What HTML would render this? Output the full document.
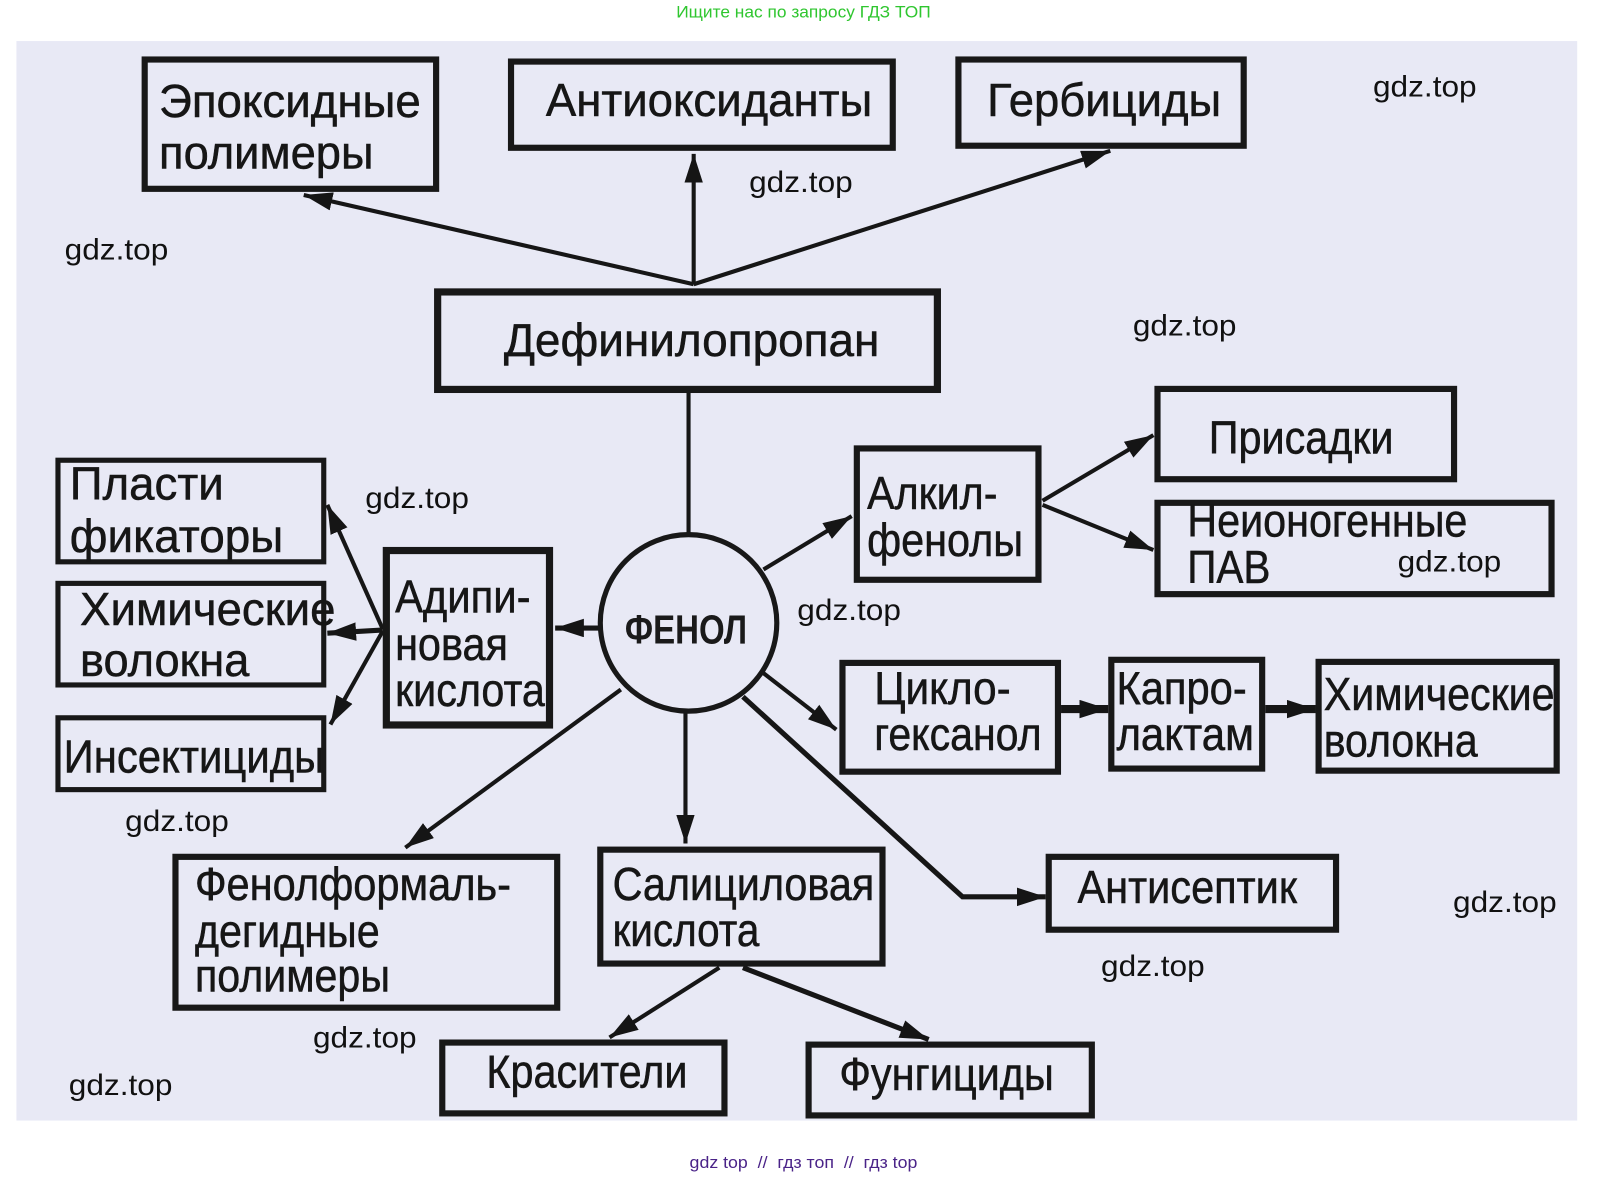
<!DOCTYPE html>
<html>
<head>
<meta charset="utf-8">
<style>
html,body{margin:0;padding:0;background:#ffffff;}
svg{display:block;}
.t{font-family:"Liberation Sans","DejaVu Sans",sans-serif;font-size:45px;fill:#161616;stroke:#161616;stroke-width:0.5;}
.w{font-family:"Liberation Sans","DejaVu Sans",sans-serif;font-size:29px;fill:#111111;}
.b{fill:#e8e9f5;stroke:#181818;}
.l{stroke:#161616;stroke-width:4;fill:none;}
</style>
</head>
<body>
<svg width="1609" height="1177" viewBox="0 0 1568 1147" xmlns="http://www.w3.org/2000/svg">
<defs>
<marker id="a" markerUnits="userSpaceOnUse" markerWidth="30" markerHeight="20" refX="28" refY="9" orient="auto">
<path d="M0,0 L28,9 L0,18 z" fill="#151515"/>
</marker>
</defs>

<rect x="0" y="0" width="1568" height="1147" fill="#ffffff"/>
<text x="783" y="17" text-anchor="middle" font-family="Liberation Sans, sans-serif" font-size="16.5" fill="#2fc62f" textLength="248" lengthAdjust="spacingAndGlyphs">Ищите нас по запросу ГДЗ ТОП</text>

<rect x="16" y="40" width="1521" height="1052" fill="#e8e9f5"/>

<!-- connectors -->
<line class="l" x1="676" y1="277" x2="296" y2="190" marker-end="url(#a)"/>
<line class="l" x1="676" y1="277" x2="676" y2="150" marker-end="url(#a)"/>
<line class="l" x1="676" y1="277" x2="1082" y2="147" marker-end="url(#a)"/>
<line class="l" x1="671" y1="383" x2="671" y2="522"/>
<line class="l" x1="585" y1="612" x2="541" y2="612" marker-end="url(#a)" style="stroke-width:5"/>
<line class="l" x1="373" y1="613" x2="319" y2="492" marker-end="url(#a)"/>
<line class="l" x1="373" y1="614" x2="319" y2="617" marker-end="url(#a)" style="stroke-width:5"/>
<line class="l" x1="373" y1="615" x2="322" y2="706" marker-end="url(#a)"/>
<line class="l" x1="744" y1="555" x2="830" y2="503" marker-end="url(#a)"/>
<line class="l" x1="1016" y1="488" x2="1124" y2="424" marker-end="url(#a)"/>
<line class="l" x1="1016" y1="492" x2="1124" y2="536" marker-end="url(#a)"/>
<line class="l" x1="744" y1="656" x2="815" y2="711" marker-end="url(#a)"/>
<line class="l" x1="1034" y1="691" x2="1080" y2="691" marker-end="url(#a)" style="stroke-width:8"/>
<line class="l" x1="1233" y1="691" x2="1282" y2="691" marker-end="url(#a)" style="stroke-width:8"/>
<polyline class="l" points="724,679 938,874 1019,874" marker-end="url(#a)" style="stroke-width:5"/>
<line class="l" x1="668" y1="692" x2="668" y2="822" marker-end="url(#a)"/>
<line class="l" x1="605" y1="672" x2="395" y2="826" marker-end="url(#a)"/>
<line class="l" x1="701" y1="943" x2="594" y2="1011" marker-end="url(#a)"/>
<line class="l" x1="724" y1="943" x2="905" y2="1013" marker-end="url(#a)" style="stroke-width:5"/>

<!-- boxes -->
<rect class="b" x="141" y="58" width="284" height="126" stroke-width="6"/>
<rect class="b" x="498" y="60" width="372" height="84" stroke-width="6"/>
<rect class="b" x="934" y="58" width="278" height="84" stroke-width="6"/>
<rect class="b" x="426.5" y="284.5" width="487" height="95" stroke-width="7"/>
<rect class="b" x="1128" y="379" width="289" height="88" stroke-width="6"/>
<rect class="b" x="1128" y="490" width="384" height="89" stroke-width="6"/>
<rect class="b" x="835" y="437" width="177" height="128" stroke-width="6"/>
<rect class="b" x="56.5" y="448.5" width="259" height="99" stroke-width="5"/>
<rect class="b" x="56.5" y="568.5" width="259" height="99" stroke-width="5"/>
<rect class="b" x="56.5" y="699.5" width="259" height="70" stroke-width="5"/>
<rect class="b" x="376.5" y="536.5" width="159" height="170" stroke-width="7"/>
<rect class="b" x="821" y="646" width="210" height="106" stroke-width="6"/>
<rect class="b" x="1083" y="643" width="147" height="106" stroke-width="6"/>
<rect class="b" x="1285" y="645" width="232" height="106" stroke-width="6"/>
<rect class="b" x="171" y="835" width="372" height="147" stroke-width="6"/>
<rect class="b" x="585" y="828" width="275" height="111" stroke-width="6"/>
<rect class="b" x="1022" y="835" width="280" height="71" stroke-width="6"/>
<rect class="b" x="431" y="1016" width="275" height="69" stroke-width="6"/>
<rect class="b" x="788" y="1018" width="276" height="69" stroke-width="6"/>

<!-- circle -->
<circle cx="671" cy="607" r="86" fill="#e8e9f5" stroke="#181818" stroke-width="5"/>
<text x="609" y="627" font-family="Liberation Sans, DejaVu Sans, sans-serif" font-weight="bold" font-size="40" fill="#1a1a1a" textLength="119" lengthAdjust="spacingAndGlyphs">ФЕНОЛ</text>

<!-- labels -->
<text class="t" x="155" y="114" textLength="255" lengthAdjust="spacingAndGlyphs">Эпоксидные</text>
<text class="t" x="155" y="164" textLength="209" lengthAdjust="spacingAndGlyphs">полимеры</text>
<text class="t" x="532" y="113" textLength="318" lengthAdjust="spacingAndGlyphs">Антиоксиданты</text>
<text class="t" x="962" y="113" textLength="228" lengthAdjust="spacingAndGlyphs">Гербициды</text>
<text class="t" x="491" y="347" textLength="366" lengthAdjust="spacingAndGlyphs">Дефинилопропан</text>
<text class="t" x="1178" y="442" textLength="180" lengthAdjust="spacingAndGlyphs">Присадки</text>
<text class="t" x="1157" y="523" textLength="273" lengthAdjust="spacingAndGlyphs">Неионогенные</text>
<text class="t" x="1157" y="568" textLength="81" lengthAdjust="spacingAndGlyphs">ПАВ</text>
<text class="t" x="845" y="496" textLength="127" lengthAdjust="spacingAndGlyphs">Алкил-</text>
<text class="t" x="845" y="542" textLength="152" lengthAdjust="spacingAndGlyphs">фенолы</text>
<text class="t" x="68" y="487" textLength="150" lengthAdjust="spacingAndGlyphs">Пласти</text>
<text class="t" x="68" y="538" textLength="208" lengthAdjust="spacingAndGlyphs">фикаторы</text>
<text class="t" x="78" y="609" textLength="249" lengthAdjust="spacingAndGlyphs">Химические</text>
<text class="t" x="78" y="659" textLength="165" lengthAdjust="spacingAndGlyphs">волокна</text>
<text class="t" x="62" y="753" textLength="254" lengthAdjust="spacingAndGlyphs">Инсектициды</text>
<text class="t" x="385" y="597" textLength="132" lengthAdjust="spacingAndGlyphs">Адипи-</text>
<text class="t" x="385" y="643" textLength="110" lengthAdjust="spacingAndGlyphs">новая</text>
<text class="t" x="385" y="688" textLength="146" lengthAdjust="spacingAndGlyphs">кислота</text>
<text class="t" x="852" y="686" textLength="133" lengthAdjust="spacingAndGlyphs">Цикло-</text>
<text class="t" x="852" y="731" textLength="163" lengthAdjust="spacingAndGlyphs">гексанол</text>
<text class="t" x="1088" y="686" textLength="127" lengthAdjust="spacingAndGlyphs">Капро-</text>
<text class="t" x="1088" y="731" textLength="134" lengthAdjust="spacingAndGlyphs">лактам</text>
<text class="t" x="1290" y="692" textLength="225" lengthAdjust="spacingAndGlyphs">Химические</text>
<text class="t" x="1290" y="737" textLength="150" lengthAdjust="spacingAndGlyphs">волокна</text>
<text class="t" x="190" y="877" textLength="308" lengthAdjust="spacingAndGlyphs">Фенолформаль-</text>
<text class="t" x="190" y="923" textLength="180" lengthAdjust="spacingAndGlyphs">дегидные</text>
<text class="t" x="190" y="966" textLength="190" lengthAdjust="spacingAndGlyphs">полимеры</text>
<text class="t" x="597" y="877" textLength="255" lengthAdjust="spacingAndGlyphs">Салициловая</text>
<text class="t" x="597" y="922" textLength="143" lengthAdjust="spacingAndGlyphs">кислота</text>
<text class="t" x="1050" y="880" textLength="214" lengthAdjust="spacingAndGlyphs">Антисептик</text>
<text class="t" x="474" y="1060" textLength="196" lengthAdjust="spacingAndGlyphs">Красители</text>
<text class="t" x="818" y="1062" textLength="209" lengthAdjust="spacingAndGlyphs">Фунгициды</text>

<!-- watermarks -->
<text class="w" x="1338" y="94" textLength="101" lengthAdjust="spacingAndGlyphs">gdz.top</text>
<text class="w" x="730" y="187" textLength="101" lengthAdjust="spacingAndGlyphs">gdz.top</text>
<text class="w" x="63" y="253" textLength="101" lengthAdjust="spacingAndGlyphs">gdz.top</text>
<text class="w" x="1104" y="327" textLength="101" lengthAdjust="spacingAndGlyphs">gdz.top</text>
<text class="w" x="356" y="495" textLength="101" lengthAdjust="spacingAndGlyphs">gdz.top</text>
<text class="w" x="1362" y="557" textLength="101" lengthAdjust="spacingAndGlyphs">gdz.top</text>
<text class="w" x="777" y="604" textLength="101" lengthAdjust="spacingAndGlyphs">gdz.top</text>
<text class="w" x="122" y="810" textLength="101" lengthAdjust="spacingAndGlyphs">gdz.top</text>
<text class="w" x="1416" y="889" textLength="101" lengthAdjust="spacingAndGlyphs">gdz.top</text>
<text class="w" x="1073" y="951" textLength="101" lengthAdjust="spacingAndGlyphs">gdz.top</text>
<text class="w" x="305" y="1021" textLength="101" lengthAdjust="spacingAndGlyphs">gdz.top</text>
<text class="w" x="67" y="1067" textLength="101" lengthAdjust="spacingAndGlyphs">gdz.top</text>

<text x="783" y="1138" text-anchor="middle" font-family="Liberation Sans, sans-serif" font-size="16.5" fill="#4a2388" textLength="222" lengthAdjust="spacingAndGlyphs">gdz top&#160;&#160;//&#160;&#160;гдз топ&#160;&#160;//&#160;&#160;гдз top</text>
</svg>
</body>
</html>
